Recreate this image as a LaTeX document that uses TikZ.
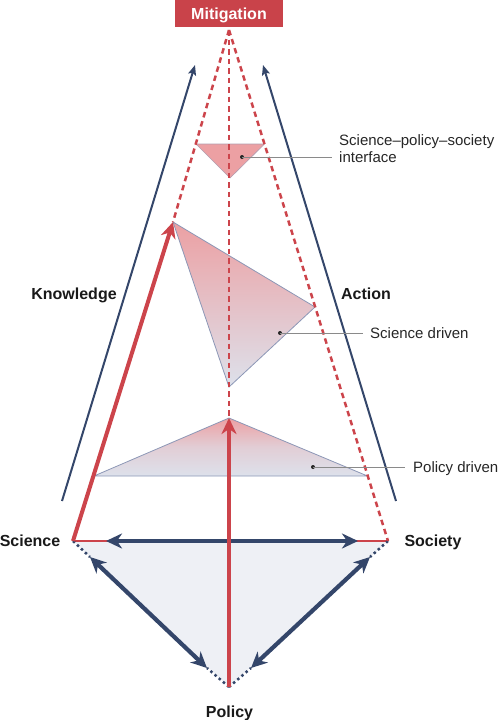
\documentclass[tikz,border=0pt]{standalone}
\usepackage{fontspec}
\setmainfont{Liberation Sans}
\usetikzlibrary{arrows.meta}
\definecolor{cRed}{HTML}{CC444B}
\definecolor{cBox}{HTML}{C9434A}
\definecolor{cNavy}{HTML}{34466A}
\definecolor{cFill}{HTML}{EEF0F5}
\definecolor{cTriRed}{HTML}{ECA0A3}
\definecolor{cTriBlue}{HTML}{DDE1EB}
\definecolor{cTriEdge}{HTML}{8C97B6}
\definecolor{cLead}{HTML}{8A8A8A}
\begin{document}
\begin{tikzpicture}[x=1pt,y=-1pt,
  redarrow/.style={draw=cRed,line width=4pt,-{Stealth[length=16pt,width=15pt,inset=5pt]}},
  reddash/.style={draw=cRed,line width=2.5pt,dash pattern=on 5.5pt off 4pt},
  navythin/.style={draw=cNavy,line width=2pt,-{Stealth[length=10pt,width=8pt,inset=2pt]}},
  navythick/.style={draw=cNavy,line width=4.2pt,{Stealth[length=16pt,width=15pt,inset=5pt]}-{Stealth[length=16pt,width=15pt,inset=5pt]}},
  navydot/.style={draw=cNavy,line width=2.5pt,dash pattern=on 2.5pt off 3pt},
  triedge/.style={draw=cTriEdge,line width=0.8pt},
  leader/.style={draw=cLead,line width=1pt},
  bold/.style={font=\fontsize{16}{18}\selectfont\bfseries,text=black!90,inner sep=0pt},
  plain/.style={font=\fontsize{15}{17}\selectfont,text=black!85,inner sep=0pt},
  leaddot/.style={circle,fill=black!85,inner sep=0pt,minimum size=4pt}
]
\useasboundingbox (0,0) rectangle (498,720);
% key points
\coordinate (apex) at (229,30);
\coordinate (sci) at (73,541);
\coordinate (soc) at (388,541);
\coordinate (pol) at (229,687);
\coordinate (ktip) at (173,222);
\coordinate (ptip) at (229,418);
% triangle vertices
\coordinate (tiL) at (196,144);
\coordinate (tiR) at (264.5,144);
\coordinate (tiB) at (230,178);
\coordinate (sdB) at (315,307);
\coordinate (sdC) at (229,387);
\coordinate (pdL) at (94,476);
\coordinate (pdR) at (367.5,476);
% knowledge / action lines
\coordinate (kb) at (62,501);
\coordinate (kt) at (195,65);
\coordinate (ab) at (396,501);
\coordinate (at) at (263,65);
% bottom arrows
\coordinate (hL) at (106,541);
\coordinate (hR) at (358,541);
\coordinate (dL1) at (90,557);
\coordinate (dL2) at (207,668);
\coordinate (dR1) at (370,557);
\coordinate (dR2) at (251,668);

% bottom triangle
\fill[cFill] (sci) -- (soc) -- (pol) -- cycle;
% policy driven triangle
\shade[top color=cTriRed,bottom color=cTriBlue,middle color=cTriBlue!70!cTriRed] (ptip) -- (pdL) -- (pdR) -- cycle;
\draw[triedge] (ptip) -- (pdL) -- (pdR) -- cycle;
% science driven triangle
\shade[top color=cTriRed,bottom color=cTriBlue] (ktip) -- (sdB) -- (sdC) -- cycle;
\draw[triedge] (ktip) -- (sdB) -- (sdC) -- cycle;
% interface triangle
\fill[cTriRed] (tiL) -- (tiR) -- (tiB) -- cycle;
\draw[draw=cTriEdge!60!cTriRed,line width=0.6pt] (tiL) -- (tiR) -- (tiB) -- cycle;

% red thin horizontal
\draw[cRed,line width=2pt] (sci) -- (soc);
% dotted navy stubs
\draw[navydot] (sci) -- (dL1);
\draw[navydot] (soc) -- (dR1);
\draw[navydot] (pol) -- (dL2);
\draw[navydot] (pol) -- (dR2);
% navy thick double arrows
\draw[navythick] (hL) -- (hR);
\draw[navythick] (dL1) -- (dL2);
\draw[navythick] (dR1) -- (dR2);

% red dashed lines
\draw[reddash] (apex) -- (ktip);
\draw[reddash] (apex) -- (ptip);
\draw[reddash] (apex) -- (soc);
% red solid arrows
\draw[redarrow] (sci) -- (ktip);
\draw[redarrow] (pol) -- (ptip);
% navy thin arrows
\draw[navythin] (kb) -- (kt);
\draw[navythin] (ab) -- (at);

% leaders
\node[leaddot] (d1) at (242,157) {};
\coordinate (l1) at (332,157);
\draw[leader] (d1.center) -- (l1);
\node[leaddot] (d2) at (280,333) {};
\coordinate (l2) at (363,333);
\draw[leader] (d2.center) -- (l2);
\node[leaddot] (d3) at (313,467) {};
\coordinate (l3) at (405,467);
\draw[leader] (d3.center) -- (l3);

% labels
\node[plain,anchor=base west,align=left] (tSPS) at (339,162.5) {Science–policy–society\\interface};
\node[plain,anchor=base west] (tSD) at (370,338.5) {Science driven};
\node[plain,anchor=base west] (tPD) at (413,472.5) {Policy driven};
\node[bold,anchor=base] (tK) at (74,299.5) {Knowledge};
\node[bold,anchor=base] (tA) at (366,299.5) {Action};
\node[bold,anchor=base] (tSci) at (30,546.5) {Science};
\node[bold,anchor=base] (tSoc) at (433,546.5) {Society};
\node[bold,anchor=base] (tPol) at (229.5,717.5) {Policy};

% Mitigation box
\node[fill=cBox,minimum width=108pt,minimum height=27pt,inner sep=0pt,text=white,
      font=\fontsize{16}{18}\selectfont\bfseries,text height=11.4pt,text depth=0pt] (mit) at (229,13.5) {Mitigation};
\end{tikzpicture}
\end{document}
